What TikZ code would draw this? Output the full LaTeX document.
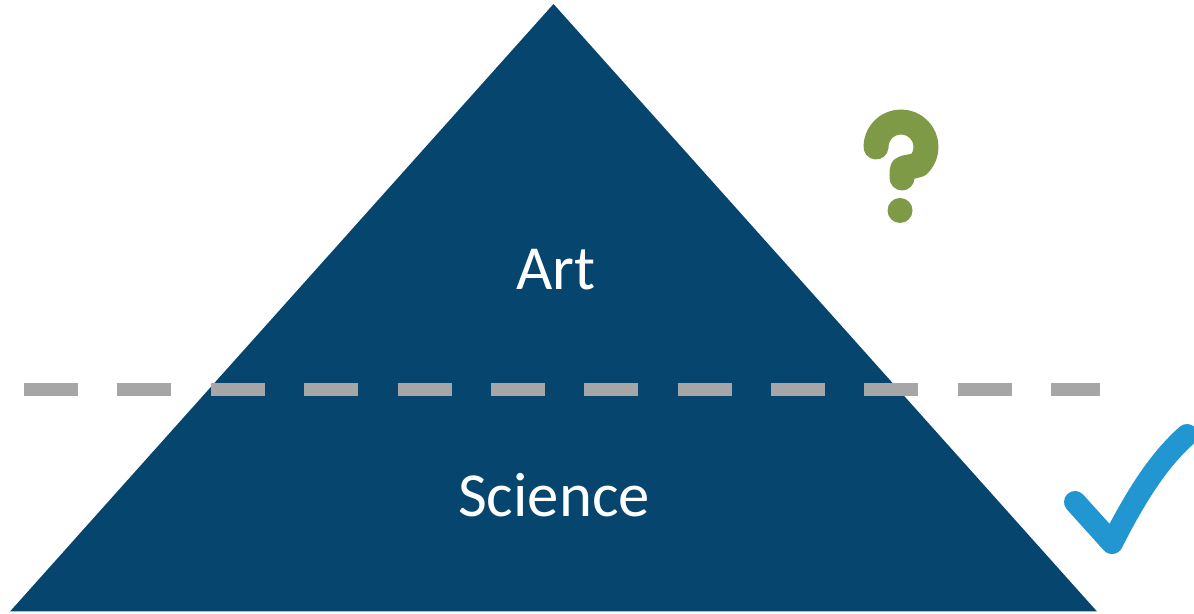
\documentclass[tikz,border=0pt]{standalone}
\usepackage{fontspec}
\setmainfont{Carlito}
\usepackage{xcolor}
\definecolor{pyramidblue}{HTML}{06466E}
\definecolor{dashgray}{HTML}{A6A6A6}
\definecolor{askgreen}{HTML}{7F9A47}
\definecolor{tickblue}{HTML}{2196D0}
\tikzset{
  layer/.style={text=white, anchor=base, font=\fontsize{35.7}{40}\selectfont},
  split/.style={dashgray, line width=13*0.02cm, dash pattern=on 1.08cm off 0.788cm},
  icon/.style={line width=22*0.02cm, line cap=round, line join=round}
}

\begin{document}
\begin{tikzpicture}[x=0.02cm,y=0.02cm]

  \useasboundingbox (0,0) rectangle (1194,614);

  \coordinate (top) at (553.5,610);
  \coordinate (bl) at (10,2.5);
  \coordinate (br) at (1097,2.5);
  \coordinate (ls) at (24,224.5);
  \coordinate (le) at (1100,224.5);

  \fill[pyramidblue] (bl) -- (top) -- (br) -- cycle;
  \draw[split] (ls) -- (le);

  \node[layer] (art) at (556,324) {Art};
  \node[layer] (science) at (554,97) {Science};

  % question mark
  \draw[icon, askgreen, line width=25*0.02cm] (876,467) arc (180:-45:25)
    .. controls (905,445) and (902,448) .. (902,442) -- (902,436);
  \fill[askgreen] (900,403.5) circle (12.5);

  % tick
  \draw[icon, tickblue] (1075,112) -- (1112,71)
    .. controls (1138,122) and (1160,155) .. (1187,179);

\end{tikzpicture}
\end{document}
